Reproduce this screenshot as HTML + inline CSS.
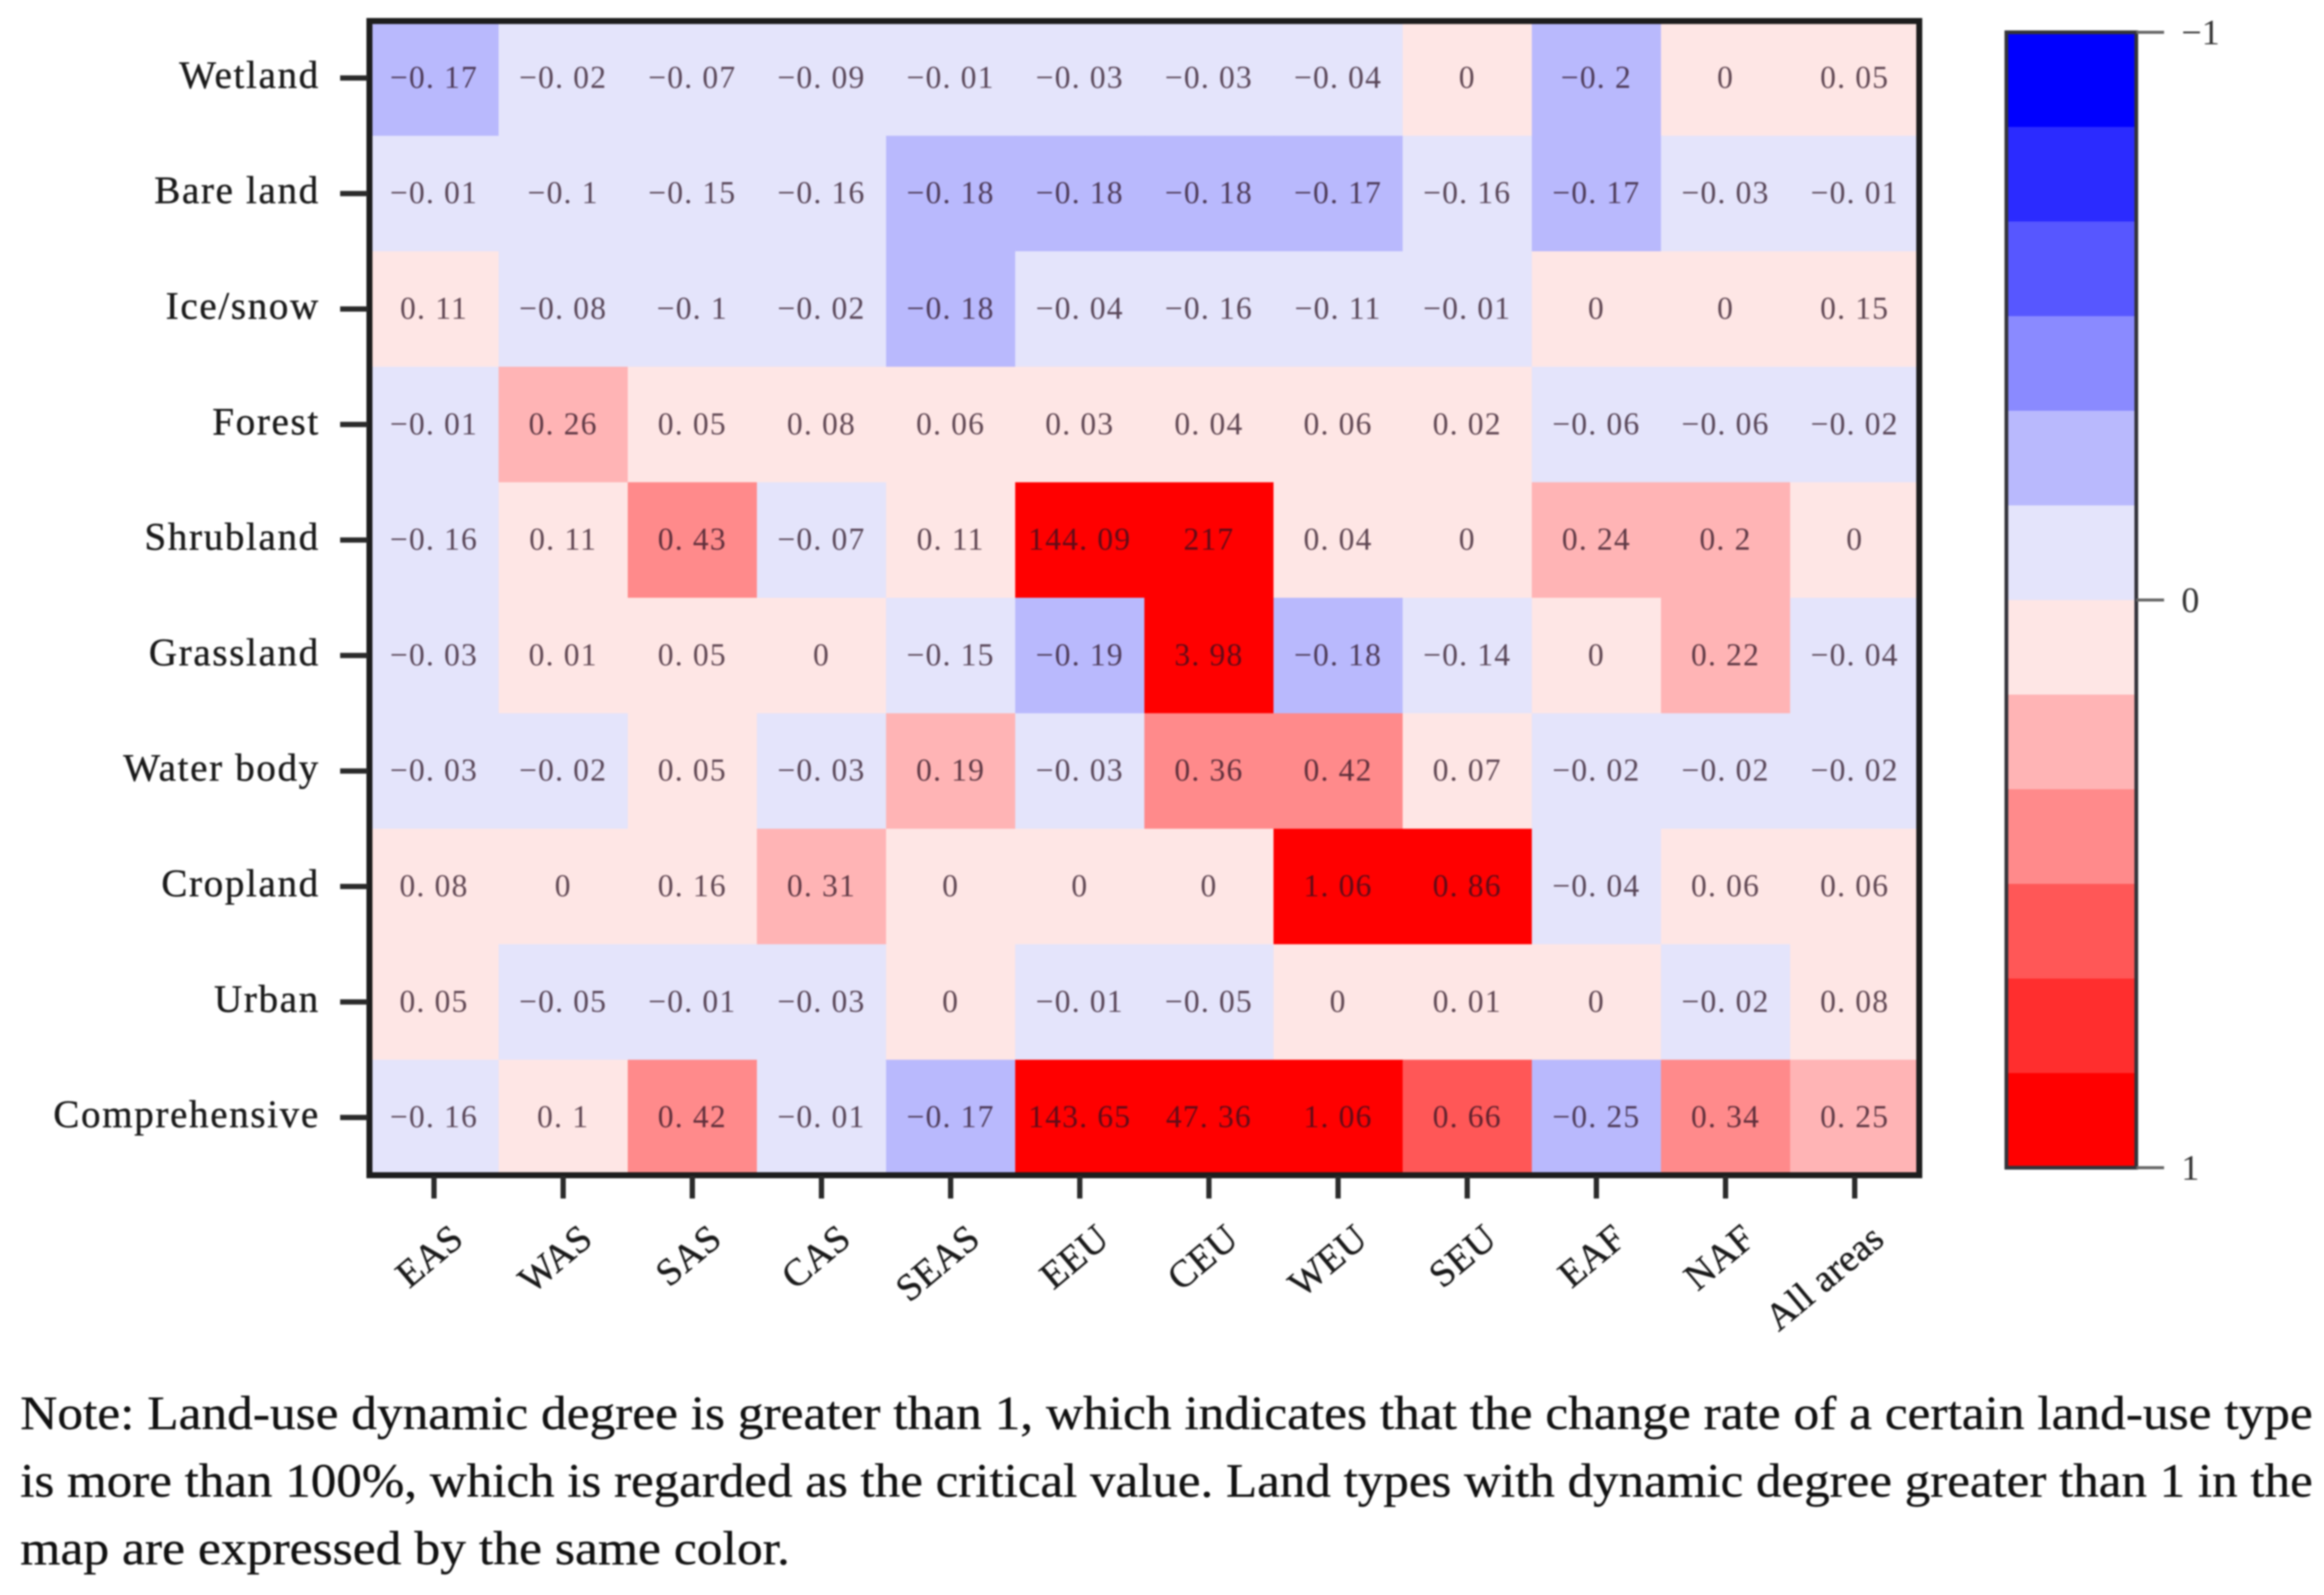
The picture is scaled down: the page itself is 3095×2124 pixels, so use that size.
<!DOCTYPE html>
<html lang="en">
<head>
<meta charset="utf-8">
<title>Land-use dynamic degree heatmap</title>
<style>
html,body{margin:0;padding:0;background:#fff;width:3095px;height:2124px;overflow:hidden}
svg{display:block;position:absolute;left:0;top:0}
text{font-family:"Liberation Serif",serif}
</style>
</head>
<body>
<svg id="chart" xmlns="http://www.w3.org/2000/svg" width="3095" height="2124" viewBox="0 0 3095 2124" style="filter:blur(1.1px)">
  <rect width="3095" height="2124" fill="#fff"/>
  <g id="cells"></g>
  <g id="cell-labels"></g>
  <rect x="492" y="28" width="2064" height="1537" fill="none" stroke="#1d1d1d" stroke-width="8"/>
  <g id="y-axis"></g>
  <g id="x-axis"></g>
  <g id="colorbar"></g>
  <g font-size="63" fill="#111" stroke="#111" stroke-width="0.4">
    <text x="27" y="1903" textLength="3053" lengthAdjust="spacingAndGlyphs">Note: Land-use dynamic degree is greater than 1, which indicates that the change rate of a certain land-use type</text>
    <text x="27" y="1993" textLength="3053" lengthAdjust="spacingAndGlyphs">is more than 100%, which is regarded as the critical value. Land types with dynamic degree greater than 1 in the</text>
    <text x="27" y="2083" textLength="1025" lengthAdjust="spacingAndGlyphs">map are expressed by the same color.</text>
  </g>
</svg>
<script>
const landTypes = ["Wetland","Bare land","Ice/snow","Forest","Shrubland","Grassland","Water body","Cropland","Urban","Comprehensive"];
const regions = ["EAS","WAS","SAS","CAS","SEAS","EEU","CEU","WEU","SEU","EAF","NAF","All areas"];
const wetland = [-0.17,-0.02,-0.07,-0.09,-0.01,-0.03,-0.03,-0.04,0,-0.2,0,0.05];
const bareLand = [-0.01,-0.1,-0.15,-0.16,-0.18,-0.18,-0.18,-0.17,-0.16,-0.17,-0.03,-0.01];
const iceSnow = [0.11,-0.08,-0.1,-0.02,-0.18,-0.04,-0.16,-0.11,-0.01,0,0,0.15];
const forest = [-0.01,0.26,0.05,0.08,0.06,0.03,0.04,0.06,0.02,-0.06,-0.06,-0.02];
const shrubland = [-0.16,0.11,0.43,-0.07,0.11,144.09,217,0.04,0,0.24,0.2,0];
const grassland = [-0.03,0.01,0.05,0,-0.15,-0.19,3.98,-0.18,-0.14,0,0.22,-0.04];
const waterBody = [-0.03,-0.02,0.05,-0.03,0.19,-0.03,0.36,0.42,0.07,-0.02,-0.02,-0.02];
const cropland = [0.08,0,0.16,0.31,0,0,0,1.06,0.86,-0.04,0.06,0.06];
const urban = [0.05,-0.05,-0.01,-0.03,0,-0.01,-0.05,0,0.01,0,-0.02,0.08];
const comprehensive = [-0.16,0.1,0.42,-0.01,-0.17,143.65,47.36,1.06,0.66,-0.25,0.34,0.25];
const matrix = [wetland,bareLand,iceSnow,forest,shrubland,grassland,waterBody,cropland,urban,comprehensive];
const palette = ["#0000ff","#2b2bff","#5757ff","#8a8aff","#b9b9fd","#e4e4fb","#fee6e5","#ffb4b5","#ff8a8b","#ff5757","#ff2e2e","#ff0000"];
const colorTicks = [-1,0,1];

const NS = "http://www.w3.org/2000/svg";
const plot = {left:492, top:27, width:2064, height:1538};
const bar = {left:2672, top:43, width:173, height:1512};

function xCenter(i){ return plot.left + plot.width / regions.length * (i + 0.5); }
function yCenter(j){ return plot.top + plot.height / landTypes.length * (j + 0.5); }
function colorY(v){ return bar.top + (v + 1) / 2 * bar.height; }
function colorOf(v){
  const clamped = Math.max(-1, Math.min(1, v));
  const idx = Math.floor((clamped + 1) / 2 * palette.length);
  return palette[Math.min(palette.length - 1, idx)];
}
function fmt(v){ return String(v).replace("-", "\u2212").replace(".", ". "); }
function make(tag, parent){
  const el = document.createElementNS(NS, tag);
  parent.appendChild(el);
  return el;
}

const cellsG = document.getElementById("cells");
const labelsG = document.getElementById("cell-labels");
const cw = plot.width / regions.length;
const ch = plot.height / landTypes.length;
matrix.forEach(function(row, j){
  row.forEach(function(v, i){
    const r = make("rect", cellsG);
    
    
    r.setAttribute("x", xCenter(i) - cw / 2);
    r.setAttribute("y", yCenter(j) - ch / 2);
    r.setAttribute("width", cw + 0.5);
    r.setAttribute("height", ch + 0.5);
    r.setAttribute("fill", colorOf(v));
    const t = make("text", labelsG);
    
    
    t.setAttribute("x", xCenter(i));
    t.setAttribute("y", yCenter(j) + 13);
    t.setAttribute("text-anchor", "middle");
    t.setAttribute("font-size", "42");
    t.setAttribute("letter-spacing", "1.6");
    t.setAttribute("fill", "#2a1020");
    t.setAttribute("fill-opacity", "0.75");
    t.textContent = fmt(v);
  });
});

const yAxis = document.getElementById("y-axis");
landTypes.forEach(function(name, j){
  const tick = make("line", yAxis);
  
  
  tick.setAttribute("x1", 453);
  tick.setAttribute("x2", 490);
  tick.setAttribute("y1", yCenter(j));
  tick.setAttribute("y2", yCenter(j));
  tick.setAttribute("stroke", "#2a2a2a");
  tick.setAttribute("stroke-width", "7");
  const t = make("text", yAxis);
  
  
  t.setAttribute("x", 426);
  t.setAttribute("y", yCenter(j) + 13);
  t.setAttribute("text-anchor", "end");
  t.setAttribute("font-size", "52");
  t.setAttribute("letter-spacing", "2.2");
  t.setAttribute("fill", "#1a1a1a");
  t.setAttribute("stroke", "#1a1a1a");
  t.setAttribute("stroke-width", "0.5");
  t.textContent = name;
});

const xAxis = document.getElementById("x-axis");
regions.forEach(function(name, i){
  const tick = make("line", xAxis);
  
  
  tick.setAttribute("x1", xCenter(i));
  tick.setAttribute("x2", xCenter(i));
  tick.setAttribute("y1", 1566);
  tick.setAttribute("y2", 1596);
  tick.setAttribute("stroke", "#2a2a2a");
  tick.setAttribute("stroke-width", "7");
  const t = make("text", xAxis);
  
  
  const ax = xCenter(i) + 42;
  t.setAttribute("x", ax);
  t.setAttribute("y", 1654);
  t.setAttribute("text-anchor", "end");
  t.setAttribute("font-size", "51");
  t.setAttribute("letter-spacing", "0.5");
  t.setAttribute("fill", "#1a1a1a");
  t.setAttribute("stroke", "#1a1a1a");
  t.setAttribute("stroke-width", "0.5");
  t.setAttribute("transform", "rotate(-40 " + ax + " 1654)");
  t.textContent = name;
});

const cb = document.getElementById("colorbar");
palette.forEach(function(col, k){
  const r = make("rect", cb);
  
  
  r.setAttribute("x", bar.left);
  r.setAttribute("y", bar.top + k * bar.height / palette.length);
  r.setAttribute("width", bar.width);
  r.setAttribute("height", bar.height / palette.length + 0.5);
  r.setAttribute("fill", col);
});
const cbFrame = make("rect", cb);


cbFrame.setAttribute("x", bar.left);
cbFrame.setAttribute("y", bar.top);
cbFrame.setAttribute("width", bar.width);
cbFrame.setAttribute("height", bar.height);
cbFrame.setAttribute("fill", "none");
cbFrame.setAttribute("stroke", "#33333a");
cbFrame.setAttribute("stroke-width", "5");
colorTicks.forEach(function(v){
  const tick = make("line", cb);
  
  
  tick.setAttribute("x1", bar.left + bar.width);
  tick.setAttribute("x2", 2882);
  tick.setAttribute("y1", colorY(v));
  tick.setAttribute("y2", colorY(v));
  tick.setAttribute("stroke", "#666");
  tick.setAttribute("stroke-width", "4");
  const t = make("text", cb);
  
  
  t.setAttribute("x", 2905);
  t.setAttribute("y", colorY(v) + 16);
  t.setAttribute("font-size", "48");
  t.setAttribute("fill", "#333");
  t.textContent = String(v).replace("-", "\u2212");
});
</script>
</body>
</html>
